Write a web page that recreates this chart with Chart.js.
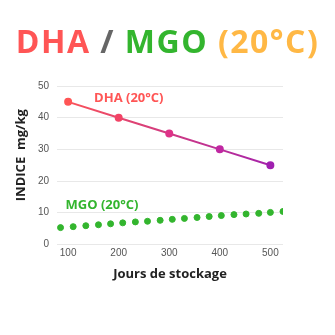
<!DOCTYPE html>
<html lang="fr">
<head>
<meta charset="UTF-8">
<title>DHA / MGO (20°C)</title>
<script src="https://cdn.jsdelivr.net/npm/chart.js@4.4.0/dist/chart.umd.min.js"></script>
<style>
  body { margin: 0; background: #fff; }
  #wrap { position: relative; width: 335px; height: 335px; }
  #title {
    position: absolute; left: 0; top: 16px; width: 335px;
    text-align: center; font: bold 32px "Open Sans", sans-serif;
    letter-spacing: 1.5px; line-height: 50px; white-space: nowrap;
  }
  canvas { position: absolute; left: 0; top: 0; }
</style>
</head>
<body>
<div id="wrap">
  <canvas id="chart" width="335" height="335"></canvas>
  <div id="title"><span style="color:#ff5555">DHA</span> <span style="color:#666">/</span> <span style="color:#33b52e">MGO</span> <span style="color:#ffb845">(20°C)</span></div>
</div>
<script>
// valeurs
const xTicks = [100, 200, 300, 400, 500];
const dhaDays = [100, 200, 300, 400, 500];
const dhaValues = [45, 40, 35, 30, 25];
const mgoDays = [85, 110, 135, 160, 184, 208, 233, 257, 282, 306, 330, 355, 379, 403, 428, 452, 477, 500, 525];
const mgoValues = [5.3, 5.6, 5.9, 6.2, 6.5, 6.8, 7.1, 7.3, 7.6, 7.9, 8.2, 8.5, 8.8, 9.1, 9.4, 9.6, 9.8, 10.1, 10.4];
const dhaPointColors = ['#ff5555', '#f24466', '#dd3388', '#c028a2', '#a020b0'];

const seriesLabels = [
  { text: 'DHA (20°C)', x: 220, y: 46.2, color: '#ff5555' },
  { text: 'MGO (20°C)', x: 167, y: 12.5, color: '#33b52e' }
];

const labelPlugin = {
  id: 'seriesLabels',
  afterDatasetsDraw(chart) {
    const { ctx, scales } = chart;
    ctx.save();
    ctx.font = 'bold 13px "Open Sans", sans-serif';
    ctx.textAlign = 'center';
    ctx.textBaseline = 'middle';
    seriesLabels.forEach(l => {
      ctx.fillStyle = l.color;
      ctx.fillText(l.text, scales.x.getPixelForValue(l.x), scales.y.getPixelForValue(l.y));
    });
    // titre de l'axe Y
    const area = chart.chartArea;
    ctx.translate(21, (area.top + area.bottom) / 2 - 10);
    ctx.rotate(-Math.PI / 2);
    ctx.font = 'bold 13px "Open Sans", sans-serif';
    ctx.fillStyle = '#222';
    ctx.fillText('INDICE  mg/kg', 0, 0);
    ctx.restore();
  }
};

function lineGradient(context) {
  const area = context.chart.chartArea;
  if (!area) return '#ff5555';
  const g = context.chart.ctx.createLinearGradient(area.left, 0, area.right, 0);
  g.addColorStop(0, '#ff5555');
  g.addColorStop(1, '#a020b0');
  return g;
}

new Chart(document.getElementById('chart'), {
  type: 'scatter',
  data: {
    datasets: [
      {
        label: 'DHA (20°C)',
        data: dhaDays.map((d, i) => ({ x: d, y: dhaValues[i] })),
        showLine: true,
        borderColor: lineGradient,
        borderWidth: 2,
        pointRadius: 3,
        pointBackgroundColor: dhaPointColors,
        pointBorderColor: dhaPointColors
      },
      {
        label: 'MGO (20°C)',
        data: mgoDays.map((d, i) => ({ x: d, y: mgoValues[i] })),
        showLine: false,
        pointRadius: 3,
        pointBackgroundColor: '#33b52e',
        pointBorderColor: '#33b52e'
      }
    ]
  },
  options: {
    responsive: false,
    animation: false,
    layout: { padding: { top: 86, right: 52, bottom: 53, left: 0 } },
    plugins: { legend: { display: false }, tooltip: { enabled: false } },
    scales: {
      x: {
        type: 'linear', min: 78, max: 525,
        afterBuildTicks: s => { s.ticks = xTicks.map(v => ({ value: v })); },
        grid: { display: false, drawTicks: false },
        border: { display: false },
        ticks: { autoSkip: false, maxRotation: 0, color: '#555', padding: 3, font: { family: '"Liberation Sans", Arial', size: 10 } },
        title: { display: true, text: 'Jours de stockage', color: '#222', padding: { top: 4, bottom: 0 }, font: { family: '"Open Sans"', size: 13, weight: 'bold' } }
      },
      y: {
        min: 0, max: 50,
        afterFit: s => { s.width = 57; },
        grid: { color: '#e8e8e8', drawTicks: false },
        border: { display: false },
        ticks: { stepSize: 10, color: '#555', padding: 8, font: { family: '"Liberation Sans", Arial', size: 10 } }
      }
    }
  },
  plugins: [labelPlugin]
});
</script>
</body>
</html>
